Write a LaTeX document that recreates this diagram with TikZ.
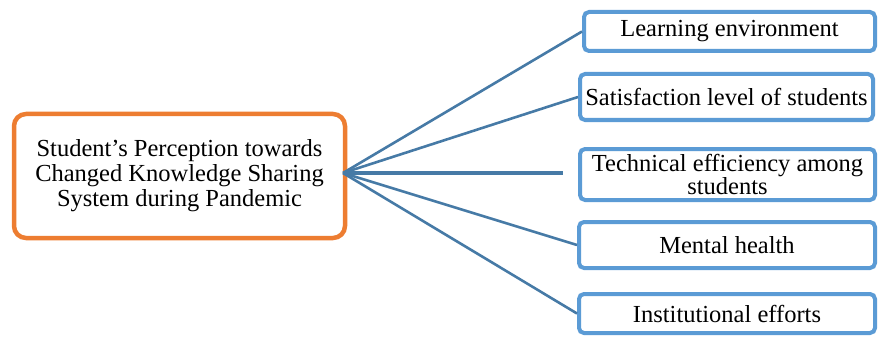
\documentclass[tikz,border=0pt]{standalone}
\usepackage{fontspec}
\setmainfont{Liberation Serif}
\definecolor{orangeb}{RGB}{237,125,49}
\definecolor{blueb}{RGB}{91,155,213}
\definecolor{conn}{RGB}{70,122,166}
\tikzset{
  mainbox/.style={draw=orangeb, line width=4.5pt, rounded corners=12pt, fill=white,
    align=center, inner sep=0pt, font=\fontsize{24.5}{25}\selectfont},
  itembox/.style={draw=blueb, line width=4pt, rounded corners=5pt, fill=white,
    align=center, inner sep=0pt, font=\fontsize{24.5}{23}\selectfont},
  link/.style={draw=conn, line width=2.6pt}
}
\begin{document}
\begin{tikzpicture}[x=1pt,y=-1pt]
\useasboundingbox (0,0) rectangle (879,337);
\node[mainbox, minimum width=331pt, minimum height=124pt] (M) at (179.5,176)
  {Student’s Perception towards\\Changed Knowledge Sharing\\System during Pandemic};
\node[itembox, minimum width=291pt, minimum height=39pt] (A) at (729.5,31.5) {Learning environment};
\node[itembox, minimum width=293pt, minimum height=46pt] (B) at (726.5,97) {Satisfaction level of students};
\node[itembox, minimum width=295pt, minimum height=51pt] (C) at (727.5,174.5) {Technical efficiency among\\students};
\node[itembox, minimum width=296pt, minimum height=46pt] (D) at (727,245) {Mental health};
\node[itembox, minimum width=296pt, minimum height=39pt] (E) at (727,313.5) {Institutional efforts};
\coordinate (hub) at (343,173);
\coordinate (cend) at (563,173);
\draw[link] (hub) -- (A.west);
\draw[link] (hub) -- (B.west);
\draw[link, line width=3.4pt] (hub) -- (cend);
\draw[link] (hub) -- (D.west);
\draw[link] (hub) -- (E.west);
\end{tikzpicture}
\end{document}
